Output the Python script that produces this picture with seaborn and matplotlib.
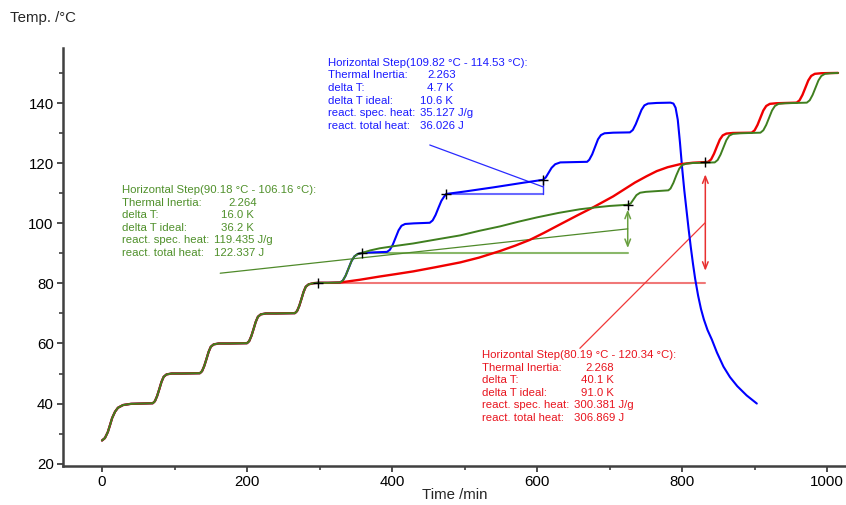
import matplotlib
matplotlib.use("Agg")
import matplotlib.pyplot as plt
import pandas as pd
import seaborn as sns

# ---------------- data ----------------
# common isothermal staircase (all three runs), time in min, temperature in degC
shared_time = [0, 4, 8, 11, 14, 18, 22, 29, 40, 55,
               70, 73, 76, 79, 82, 85, 89, 96, 110,
               135, 138, 141, 144, 147, 150, 154, 161, 175,
               200, 203, 206, 209, 212, 215, 219, 226, 240,
               266, 269, 272, 275, 278, 281, 285, 292, 298, 312, 328]
shared_temp = [27.7, 28.5, 30.5, 32.8, 35.2, 37.3, 38.6, 39.5, 39.9, 40.0,
               40.1, 40.8, 42.5, 44.8, 47.2, 48.9, 49.7, 50.0, 50.0,
               50.1, 50.8, 52.5, 54.8, 57.2, 58.9, 59.7, 60.0, 60.0,
               60.1, 60.8, 62.5, 64.8, 67.2, 68.9, 69.7, 70.0, 70.0,
               70.1, 70.8, 72.5, 74.8, 77.2, 78.9, 79.7, 80.1, 80.2, 80.2, 80.3]

# 80 -> 90 step shared by the green and blue runs
gb_time = [332, 336, 340, 344, 348, 352, 359]
gb_temp = [80.9, 82.6, 85.0, 87.4, 89.0, 89.7, 90.2]

red_time = [355, 383, 405, 429, 460, 494, 520, 549, 570, 590,
            610, 632, 655, 677, 705, 720, 735, 751, 765, 780,
            797, 815, 832, 836, 840, 844, 848, 852, 856,
            861, 870, 896, 900, 904, 908, 912, 916, 921, 930,
            958, 962, 966, 970, 974, 978, 983, 992, 1015]
red_temp = [81.2, 82.3, 83.1, 84.0, 85.4, 87.0, 88.6, 90.8, 92.6, 94.5,
            96.9, 99.7, 102.6, 105.3, 109.0, 111.3, 113.6, 115.7, 117.4, 118.7,
            119.7, 120.2, 120.4, 120.5, 121.3, 123.2, 125.6, 127.9, 129.3,
            129.9, 130.1, 130.2, 131.0, 132.8, 135.2, 137.6, 139.1, 139.8, 140.0,
            140.2, 141.0, 142.8, 145.2, 147.6, 149.1, 149.8, 150.0, 150.1]

green_time = [370, 383, 405, 429, 460, 494, 520, 549, 575, 600,
              630, 659, 680, 700, 725, 729, 733,
              737, 742, 750, 781, 784, 788, 792, 796, 800, 806,
              815, 845, 849, 853, 857, 861, 865, 870, 880, 908,
              912, 916, 920, 924, 928, 933, 942, 972, 976, 980,
              984, 988, 992, 997, 1005, 1015]
green_temp = [91.0, 91.7, 92.5, 93.3, 94.6, 96.0, 97.5, 99.0, 100.6, 102.0,
              103.5, 104.7, 105.3, 105.8, 106.2, 106.6, 108.0,
              109.4, 110.2, 110.5, 111.0, 111.6, 113.5, 116.0, 118.2, 119.4, 119.9,
              120.1, 120.3, 121.1, 122.9, 125.3, 127.7, 129.2, 129.8, 130.0, 130.2,
              131.0, 132.8, 135.2, 137.6, 139.1, 139.8, 140.0, 140.2, 141.0, 142.8,
              145.2, 147.6, 149.1, 149.8, 150.0, 150.1]

blue_time = [393, 397, 401, 405, 409, 413, 418, 430, 452, 456,
             460, 464, 468, 472, 475, 500, 540, 580, 608, 612,
             616, 620, 625, 632, 669, 672, 676, 680, 684, 688,
             693, 705, 728, 732, 736, 740, 744, 748, 753, 765,
             784, 788, 791, 794, 797, 800, 803, 806, 809, 812,
             815, 818, 822, 826, 830, 835, 841, 848, 857, 866,
             876, 889, 903]
blue_temp = [90.5, 91.2, 92.9, 95.3, 97.7, 99.2, 99.8, 100.0, 100.2, 101.0,
             102.8, 105.2, 107.5, 109.0, 109.8, 110.6, 112.0, 113.5, 114.5, 115.3,
             116.9, 118.5, 119.7, 120.3, 120.5, 121.2, 123.0, 125.5, 128.0, 129.4,
             130.0, 130.2, 130.3, 131.1, 133.0, 135.4, 137.8, 139.3, 139.9, 140.1,
             140.2, 139.9, 138.5, 134.5, 127.0, 118.5, 111.0, 104.5, 98.0, 92.0,
             86.5, 81.5, 76.0, 71.5, 68.0, 64.5, 61.3, 57.0, 52.3, 48.8,
             45.8, 42.7, 40.0]

# horizontal-step evaluations: start/end time and temperature
step_names = ["red", "green", "blue"]
step_t0 = [298, 359, 475]
step_T0 = [80.19, 90.18, 109.82]
step_t1 = [832, 725, 608]
step_T1 = [120.34, 106.16, 114.53]
step_headers = ["Horizontal Step(80.19 °C - 120.34 °C):",
                "Horizontal Step(90.18 °C - 106.16 °C):",
                "Horizontal Step(109.82 °C - 114.53 °C):"]
row_labels = ["Thermal Inertia:", "delta T:", "delta T ideal:",
              "react. spec. heat:", "react. total heat:"]
red_values = ["2.268", "40.1 K", "91.0 K", "300.381 J/g", "306.869 J"]
green_values = ["2.264", "16.0 K", "36.2 K", "119.435 J/g", "122.337 J"]
blue_values = ["2.263", "4.7 K", "10.6 K", "35.127 J/g", "36.026 J"]

# ---------------- style ----------------
sns.set_style("ticks")
plt.rcParams["font.family"] = ["Liberation Sans", "DejaVu Sans"]

W, H = 846, 505
fig = plt.figure(figsize=(W / 100, H / 100), dpi=100)
ax = fig.add_axes([63 / W, 39 / H, (W - 63) / W, 418 / H])

curve_col = {"red": "#f00000", "green": "#3f7f1f", "blue": "#0000ff"}
base_col = {"red": "#f07878", "green": "#8ab86a", "blue": "#6a6aff"}
lead_col = {"red": "#f03838", "green": "#4f8a2a", "blue": "#2a2aff"}
arrow_col = {"red": "#e83030", "green": "#6aa040", "blue": "#3030ff"}
text_col = {"red": "#e8141e", "green": "#4f902a", "blue": "#1a1aff"}

series = {
    "blue": (shared_time + gb_time + blue_time, shared_temp + gb_temp + blue_temp),
    "red": (shared_time + red_time, shared_temp + red_temp),
    "green": (shared_time + gb_time + green_time, shared_temp + gb_temp + green_temp),
}
widths = {"blue": 1.5, "red": 1.7, "green": 1.4}
for name in ["blue", "red", "green"]:
    t, T = series[name]
    df = pd.DataFrame({"Time": t, "Temp": T})
    sns.lineplot(data=df, x="Time", y="Temp", ax=ax, color=curve_col[name],
                 lw=widths[name], sort=False, estimator=None, zorder=3)

# step annotations
leader_start = {"red": (659, 58.4), "green": (163, 83.4), "blue": (452, 126.1)}
for i, name in enumerate(step_names):
    t0, T0, t1, T1 = step_t0[i], step_T0[i], step_t1[i], step_T1[i]
    ax.plot([t0, t1], [T0, T0], color=base_col[name], lw=1.5, zorder=2)
    dT = T1 - T0
    if name == "blue":
        ax.plot([t1, t1], [T0, T1], color=arrow_col[name], lw=1.0, zorder=2)
    else:
        ax.annotate("", xy=(t1, T1 - 0.1 * dT), xytext=(t1, T0 + 0.1 * dT),
                    arrowprops=dict(arrowstyle="<->,head_length=0.5,head_width=0.2",
                                    color=arrow_col[name], lw=1.1,
                                    shrinkA=0, shrinkB=0), zorder=2)
    mid = (T0 + T1) / 2
    ls, Ls = leader_start[name]
    ax.plot([ls, t1], [Ls, mid], color=lead_col[name], lw=0.9, zorder=2)

cross_df = pd.DataFrame({"Time": step_t0 + step_t1, "Temp": step_T0 + step_T1})
sns.scatterplot(data=cross_df, x="Time", y="Temp", ax=ax, marker="+", s=55,
                color="black", linewidth=1.0, zorder=5)

# text blocks (pixel positions)
blocks = {
    "blue": (328, 62.7, [427, 427, 420, 420, 420], blue_values, step_headers[2]),
    "green": (122, 190, [228, 221, 221, 214, 214], green_values, step_headers[1]),
    "red": (482, 355, [585, 581, 581, 574, 574], red_values, step_headers[0]),
}
dy = 12.6
fs = 8.2
for name, (x0, y0, xv, vals, header) in blocks.items():
    fig.text(x0 / W, 1 - y0 / H, header, color=text_col[name], fontsize=fs,
             ha="left", va="center")
    for j, (lab, val) in enumerate(zip(row_labels, vals)):
        y = y0 + (j + 1) * dy
        fig.text(x0 / W, 1 - y / H, lab, color=text_col[name], fontsize=fs,
                 ha="left", va="center")
        fig.text(xv[j] / W, 1 - y / H, val, color=text_col[name], fontsize=fs,
                 ha="left", va="center")

# axes styling
ax.set_xlim(-53.8, 1026)
ax.set_ylim(19.2, 158.4)
ax.set_xticks([0, 200, 400, 600, 800, 1000])
ax.set_xticks([100, 300, 500, 700, 900], minor=True)
ax.set_yticks([20, 40, 60, 80, 100, 120, 140])
ax.set_yticks([30, 50, 70, 90, 110, 130, 150], minor=True)
for s in ["top", "right"]:
    ax.spines[s].set_visible(False)
for s in ["left", "bottom"]:
    ax.spines[s].set_color("#404040")
    ax.spines[s].set_linewidth(1.8)
ax.tick_params(which="major", length=4.5, width=1.3, color="#404040",
               labelsize=10.8, pad=2.2, labelcolor="black")
ax.tick_params(which="minor", length=2.7, width=1.2, color="#404040")
ax.set_xlabel("Time /min", fontsize=10.8, labelpad=-1)
ax.set_ylabel("")
fig.text(10 / W, 1 - 18 / H, "Temp. /°C", fontsize=10.8, ha="left", va="center")

fig.savefig("out.png", dpi=100)
